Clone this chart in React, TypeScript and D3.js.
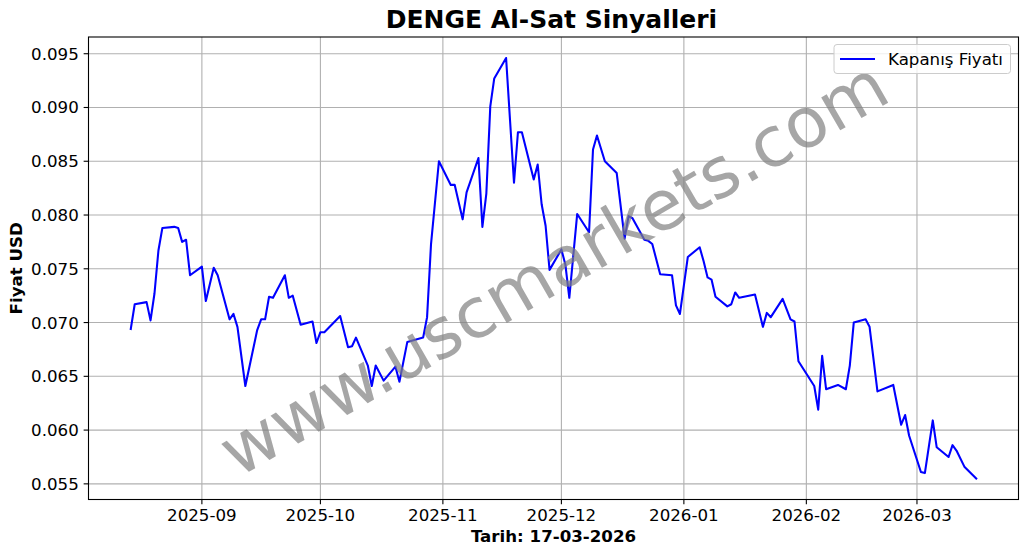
import React from "react";
import * as d3 from "d3";

const dates: string[] = [
  "2025-08-14","2025-08-15","2025-08-18","2025-08-19","2025-08-20","2025-08-21","2025-08-22",
  "2025-08-25","2025-08-26","2025-08-27","2025-08-28","2025-08-29","2025-09-01","2025-09-02",
  "2025-09-04","2025-09-05","2025-09-08","2025-09-09","2025-09-10","2025-09-12","2025-09-15",
  "2025-09-16","2025-09-17","2025-09-18","2025-09-19","2025-09-22","2025-09-23","2025-09-24",
  "2025-09-26","2025-09-29","2025-09-30","2025-10-01","2025-10-02","2025-10-06","2025-10-08",
  "2025-10-09","2025-10-10","2025-10-13","2025-10-14","2025-10-15","2025-10-17","2025-10-20",
  "2025-10-21","2025-10-23","2025-10-27","2025-10-28","2025-10-29","2025-10-31","2025-11-03",
  "2025-11-04","2025-11-06","2025-11-07","2025-11-10","2025-11-11","2025-11-12","2025-11-13",
  "2025-11-14","2025-11-17","2025-11-19","2025-11-20","2025-11-21","2025-11-24","2025-11-25",
  "2025-11-26","2025-11-27","2025-11-28","2025-12-01","2025-12-02","2025-12-03","2025-12-05",
  "2025-12-08","2025-12-09","2025-12-10","2025-12-12","2025-12-15","2025-12-17","2025-12-18",
  "2025-12-19","2025-12-22","2025-12-23","2025-12-24","2025-12-26","2025-12-29","2025-12-30",
  "2025-12-31","2026-01-02","2026-01-05","2026-01-06","2026-01-07","2026-01-08","2026-01-09",
  "2026-01-12","2026-01-13","2026-01-14","2026-01-15","2026-01-19","2026-01-21","2026-01-22",
  "2026-01-23","2026-01-26","2026-01-28","2026-01-29","2026-01-30","2026-02-03","2026-02-04",
  "2026-02-05","2026-02-06","2026-02-09","2026-02-11","2026-02-12","2026-02-13","2026-02-16",
  "2026-02-17","2026-02-19","2026-02-23","2026-02-25","2026-02-26","2026-02-27","2026-03-02",
  "2026-03-03","2026-03-05","2026-03-06","2026-03-09","2026-03-10","2026-03-11","2026-03-13",
  "2026-03-16"
];

const closes: number[] = [
  0.0694,0.0717,0.0719,0.0702,0.0727,0.0767,0.0788,
  0.0789,0.0788,0.0775,0.0777,0.0744,0.0752,0.0720,
  0.0751,0.0744,0.0703,0.0708,0.0696,0.0641,0.0693,
  0.0703,0.0703,0.0724,0.0723,0.0744,0.0723,0.0725,
  0.0698,0.0701,0.0681,0.0691,0.0691,0.0706,0.0677,
  0.0678,0.0686,0.0660,0.0641,0.0660,0.0646,0.0659,
  0.0645,0.0682,0.0686,0.0705,0.0773,0.0850,0.0828,
  0.0828,0.0796,0.0821,0.0853,0.0789,0.0820,0.0901,
  0.0927,0.0946,0.0830,0.0877,0.0877,0.0833,0.0847,
  0.0810,0.0790,0.0749,0.0768,0.0754,0.0723,0.0801,
  0.0784,0.0861,0.0874,0.0850,0.0839,0.0778,0.0799,
  0.0797,0.0777,0.0776,0.0773,0.0745,0.0744,0.0716,
  0.0708,0.0761,0.0770,0.0757,0.0742,0.0740,0.0724,
  0.0715,0.0717,0.0728,0.0723,0.0726,0.0696,0.0709,
  0.0705,0.0722,0.0703,0.0701,0.0664,0.0641,0.0619,
  0.0669,0.0638,0.0642,0.0638,0.0660,0.0700,0.0703,
  0.0696,0.0636,0.0642,0.0605,0.0614,0.0595,0.0561,
  0.0560,0.0609,0.0584,0.0575,0.0586,0.0581,0.0566,
  0.0555
];

const yTicks: number[] = [0.055, 0.06, 0.065, 0.07, 0.075, 0.08, 0.085, 0.09, 0.095];
const xTickLabels: string[] = ["2025-09","2025-10","2025-11","2025-12","2026-01","2026-02","2026-03"];

const TITLE = "DENGE Al-Sat Sinyalleri";
const X_LABEL = "Tarih: 17-03-2026";
const Y_LABEL = "Fiyat USD";
const LEGEND_LABEL = "Kapanış Fiyatı";
const WATERMARK = "www.uscmarkets.com";

export default function App() {
  const W = 1028, H = 554;
  const left = 88.5, right = 1018.5, top = 37, bottom = 499.5;
  const font = "'DejaVu Sans', sans-serif";
  const fs = 16.67;

  const parse = d3.utcParse("%Y-%m-%d");
  const pts = dates.map((d, i) => ({ t: parse(d) as Date, v: closes[i] }));

  const [t0, t1] = d3.extent(pts, p => p.t) as [Date, Date];
  const span = +t1 - +t0;
  const x = d3.scaleUtc()
    .domain([new Date(+t0 - span * 0.05), new Date(+t1 + span * 0.05)])
    .range([left, right]);

  const [v0, v1] = d3.extent(closes) as [number, number];
  const vpad = (v1 - v0) * 0.05;
  const y = d3.scaleLinear().domain([v0 - vpad, v1 + vpad]).range([bottom, top]);

  const line = d3.line<{ t: Date; v: number }>().x(p => x(p.t)).y(p => y(p.v));

  const xTicks = xTickLabels.map(s => d3.utcParse("%Y-%m")(s) as Date);
  const fmtX = d3.utcFormat("%Y-%m");
  const fmtY = d3.format(".3f");

  const cx = (left + right) / 2;
  const cy = (top + bottom) / 2;

  return (
    <svg width={W} height={H} style={{ position: "absolute", left: 0, top: 0, background: "#fff" }} fontFamily={font}>
      <rect x={0} y={0} width={W} height={H} fill="#fff" />
      {/* grid */}
      {xTicks.map((t, i) => (
        <line key={"gx" + i} x1={x(t)} x2={x(t)} y1={top} y2={bottom} stroke="#b0b0b0" strokeWidth={1.1} />
      ))}
      {yTicks.map((v, i) => (
        <line key={"gy" + i} x1={left} x2={right} y1={y(v)} y2={y(v)} stroke="#b0b0b0" strokeWidth={1.1} />
      ))}
      {/* data line */}
      <path d={line(pts) || ""} fill="none" stroke="#0000ff" strokeWidth={2.08} strokeLinejoin="round" strokeLinecap="square" />
      {/* watermark */}
      <text x={cx} y={cy} transform={`rotate(-30 ${cx} ${cy})`} textAnchor="middle" dominantBaseline="central"
        fontSize={69.4} fill="#808080" fillOpacity={0.7}>{WATERMARK}</text>
      {/* spines */}
      <rect x={left} y={top} width={right - left} height={bottom - top} fill="none" stroke="#000" strokeWidth={1.1} />
      {/* x ticks */}
      {xTicks.map((t, i) => (
        <g key={"xt" + i}>
          <line x1={x(t)} x2={x(t)} y1={bottom} y2={bottom + 4.86} stroke="#000" strokeWidth={1.1} />
          <text x={x(t)} y={bottom + 21.5} textAnchor="middle" fontSize={fs} fill="#000">{fmtX(t)}</text>
        </g>
      ))}
      {/* y ticks */}
      {yTicks.map((v, i) => (
        <g key={"yt" + i}>
          <line x1={left - 4.86} x2={left} y1={y(v)} y2={y(v)} stroke="#000" strokeWidth={1.1} />
          <text x={left - 9.7} y={y(v)} dy="0.36em" textAnchor="end" fontSize={fs} fill="#000">{fmtY(v)}</text>
        </g>
      ))}
      {/* title */}
      <text x={cx - 2} y={27.5} textAnchor="middle" fontSize={25} fontWeight="bold" fill="#000">{TITLE}</text>
      {/* axis labels */}
      <text x={cx} y={541.5} textAnchor="middle" fontSize={fs} fontWeight="bold" fill="#000">{X_LABEL}</text>
      <text transform={`translate(22 ${cy}) rotate(-90)`} textAnchor="middle" fontSize={fs} fontWeight="bold" fill="#000">{Y_LABEL}</text>
      {/* legend */}
      <g>
        <rect x={834} y={44.5} width={176.5} height={29} rx={3} fill="#fff" fillOpacity={0.8} stroke="#cccccc" strokeWidth={1} />
        <line x1={840} x2={875} y1={59} y2={59} stroke="#0000ff" strokeWidth={2.08} />
        <text x={888} y={64.5} fontSize={fs} fill="#000">{LEGEND_LABEL}</text>
      </g>
    </svg>
  );
}
